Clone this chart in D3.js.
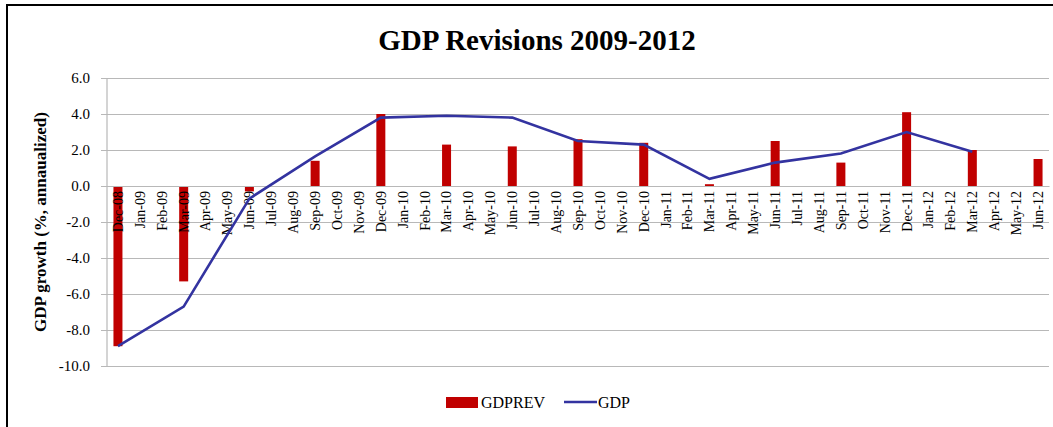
<!DOCTYPE html>
<html lang="en">
<head>
<meta charset="utf-8">
<title>GDP Revisions 2009-2012</title>
<script src="https://d3js.org/d3.v7.min.js"></script>
<style>
body { margin: 0; background: #fff; }
svg { display: block; font-family: "Liberation Serif", "DejaVu Serif", serif; }
.grid line { stroke: #b8b8b8; stroke-width: 1.2; }
.tick text { fill: #000; }
</style>
</head>
<body>
<svg width="1053" height="427"></svg>
<script>
// months on the category axis
var months = ["Dec-08","Jan-09","Feb-09","Mar-09","Apr-09","May-09","Jun-09","Jul-09","Aug-09","Sep-09","Oct-09","Nov-09",
  "Dec-09","Jan-10","Feb-10","Mar-10","Apr-10","May-10","Jun-10","Jul-10","Aug-10","Sep-10","Oct-10","Nov-10",
  "Dec-10","Jan-11","Feb-11","Mar-11","Apr-11","May-11","Jun-11","Jul-11","Aug-11","Sep-11","Oct-11","Nov-11",
  "Dec-11","Jan-12","Feb-12","Mar-12","Apr-12","May-12","Jun-12"];

// quarterly revision bars
var revMonths = ["Dec-08","Mar-09","Jun-09","Sep-09","Dec-09","Mar-10","Jun-10","Sep-10","Dec-10","Mar-11","Jun-11","Sep-11","Dec-11","Mar-12","Jun-12"];
var revValues = [-8.9, -5.3, -0.3, 1.4, 4.0, 2.3, 2.2, 2.6, 2.4, 0.1, 2.5, 1.3, 4.1, 2.0, 1.5];

// GDP line
var gdpMonths = ["Dec-08","Mar-09","Jun-09","Sep-09","Dec-09","Mar-10","Jun-10","Sep-10","Dec-10","Mar-11","Jun-11","Sep-11","Dec-11","Mar-12"];
var gdpValues = [-8.9, -6.7, -0.7, 1.65, 3.8, 3.9, 3.8, 2.5, 2.3, 0.4, 1.3, 1.8, 3.0, 1.9];

var yTicks = [6, 4, 2, 0, -2, -4, -6, -8, -10];

var svg = d3.select("svg");
var plotL = 107, plotR = 1049, plotT = 78, plotB = 366;

var x = d3.scaleBand().domain(months).range([plotL, plotR]);
var y = d3.scaleLinear().domain([-10, 6]).range([plotB, plotT]);

// frame (left and top edges only visible)
svg.append("path")
  .attr("d", "M7,427 V5 H1053")
  .attr("fill", "none")
  .attr("stroke", "#000")
  .attr("stroke-width", 2);

// title
svg.append("text")
  .attr("x", 537).attr("y", 50)
  .attr("text-anchor", "middle")
  .attr("font-size", 29).attr("font-weight", "bold")
  .text("GDP Revisions 2009-2012");

// horizontal gridlines + y axis
var yAxis = svg.append("g")
  .attr("class", "grid")
  .attr("transform", "translate(" + plotL + ",0)")
  .call(d3.axisLeft(y).tickValues(yTicks)
    .tickFormat(function(d) { return d.toFixed(1); })
    .tickSize(-(plotR - plotL)).tickPadding(17));
yAxis.select(".domain").remove();
yAxis.selectAll(".tick line").attr("x1", -6);
yAxis.selectAll(".tick text").attr("font-size", 15).attr("font-family", "Liberation Serif, serif");

svg.append("line")
  .attr("x1", plotL).attr("x2", plotL)
  .attr("y1", plotT).attr("y2", plotB)
  .attr("stroke", "#b8b8b8").attr("stroke-width", 1.2);

// y axis title
svg.append("text")
  .attr("transform", "translate(46," + y(-2) + ") rotate(-90)")
  .attr("text-anchor", "middle")
  .attr("font-size", 17).attr("font-weight", "bold")
  .text("GDP growth (%, annaualized)");

// bars
var barW = 9;
svg.selectAll("rect.bar")
  .data(revMonths.map(function(m, i) { return { m: m, v: revValues[i] }; }))
  .enter().append("rect")
    .attr("class", "bar")
    .attr("x", function(d) { return x(d.m) + x.bandwidth() / 2 - barW / 2; })
    .attr("width", barW)
    .attr("y", function(d) { return y(Math.max(0, d.v)); })
    .attr("height", function(d) { return Math.abs(y(d.v) - y(0)); })
    .attr("fill", "#c00000");

// category axis at zero
var xAxis = svg.append("g")
  .attr("transform", "translate(0," + y(0) + ")")
  .call(d3.axisBottom(x).tickSize(0).tickPadding(0));
xAxis.select(".domain").attr("stroke", "#b8b8b8").attr("stroke-width", 1.2);
xAxis.selectAll(".tick text")
  .attr("font-size", 14)
  .attr("font-family", "Liberation Serif, serif")
  .attr("transform", "rotate(-90)")
  .attr("text-anchor", "end")
  .attr("x", -5).attr("y", 0)
  .attr("dy", "0.35em");

// GDP line
var line = d3.line()
  .x(function(d) { return x(d.m) + x.bandwidth() / 2; })
  .y(function(d) { return y(d.v); });
svg.append("path")
  .datum(gdpMonths.map(function(m, i) { return { m: m, v: gdpValues[i] }; }))
  .attr("d", line)
  .attr("fill", "none")
  .attr("stroke", "#3333a0")
  .attr("stroke-width", 2.6);

// legend
var lg = svg.append("g").attr("font-size", 16);
lg.append("rect").attr("x", 446).attr("y", 397).attr("width", 32).attr("height", 11).attr("fill", "#c00000");
lg.append("text").attr("x", 481).attr("y", 408).text("GDPREV");
lg.append("line").attr("x1", 564).attr("x2", 597).attr("y1", 402).attr("y2", 402)
  .attr("stroke", "#3333a0").attr("stroke-width", 2.6);
lg.append("text").attr("x", 598).attr("y", 408).text("GDP");
</script>
</body>
</html>
